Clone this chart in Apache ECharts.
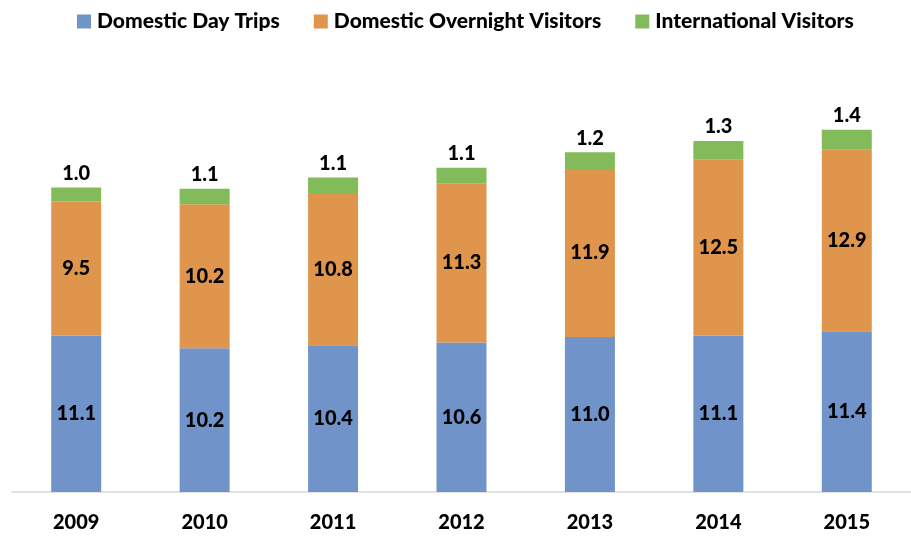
<!DOCTYPE html>
<html>
<head>
<meta charset="utf-8">
<script src="https://cdn.jsdelivr.net/npm/echarts@6/dist/echarts.min.js"></script>
<style>
    html, body { margin: 0; padding: 0; background: #fff; }
    #chart { width: 911px; height: 537px; }
</style>
</head>
<body>
<div id="chart"></div>
<script>
'use strict';

var years = ['2009', '2010', '2011', '2012', '2013', '2014', '2015'];
var dayTrips = [11.1, 10.2, 10.4, 10.6, 11.0, 11.1, 11.4];
var overnight = [9.5, 10.2, 10.8, 11.3, 11.9, 12.5, 12.9];
var international = [1.0, 1.1, 1.1, 1.1, 1.2, 1.3, 1.4];

var FONT = 'Lato, "Open Sans", sans-serif';

// shared label style for bar values
function barLabel(position) {
    return {
        show: true,
        position: position,
        distance: 4,
        fontFamily: FONT,
        fontWeight: 900,
        fontSize: 20,
        color: '#000',
        formatter: function (p) { return p.value.toFixed(1); }
    };
}

function stackSeries(name, data, color, position) {
    return {
        name: name,
        type: 'bar',
        stack: 'total',
        barWidth: 50,
        data: data,
        itemStyle: { color: color },
        label: barLabel(position),
        emphasis: { disabled: true }
    };
}

var chart = echarts.init(document.getElementById('chart'));
chart.setOption({
    animation: false,
    legend: {
        top: 6,
        left: 72,
        itemWidth: 14,
        itemHeight: 14,
        itemGap: 34,
        icon: 'rect',
        textStyle: {
            fontFamily: FONT,
            fontWeight: 900,
            fontSize: 21,
            color: '#000',
            padding: [0, 0, 0, 1]
        }
    },
    grid: { left: 12, right: 0, top: 69, bottom: 45 },
    xAxis: {
        type: 'category',
        data: years,
        axisLine: { lineStyle: { color: '#d9d9d9', width: 1.5 } },
        axisTick: { show: false },
        axisLabel: {
            margin: 21,
            fontFamily: FONT,
            fontWeight: 900,
            fontSize: 20,
            color: '#000'
        }
    },
    yAxis: {
        type: 'value',
        min: 0,
        max: 30,
        show: false
    },
    series: [
        stackSeries('Domestic Day Trips', dayTrips, '#7094c9', 'inside'),
        stackSeries('Domestic Overnight Visitors', overnight, '#e0954d', 'inside'),
        stackSeries('International Visitors', international, '#84bb5a', 'top')
    ]
});
</script>
</body>
</html>
